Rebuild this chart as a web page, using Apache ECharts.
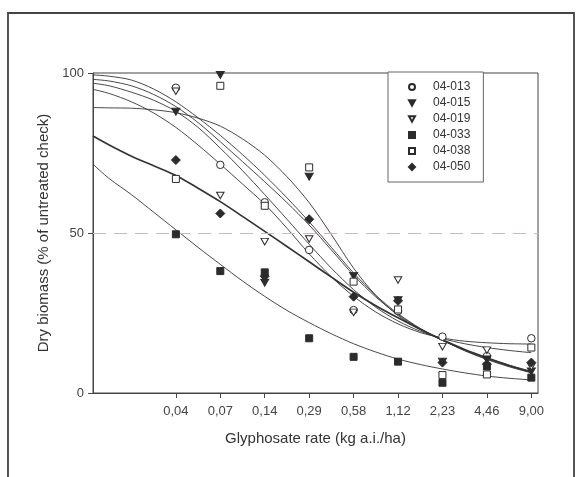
<!DOCTYPE html>
<html>
<head>
<meta charset="utf-8">
<script src="https://cdn.jsdelivr.net/npm/echarts@6/dist/echarts.min.js"></script>
<style>html,body{margin:0;padding:0;background:#fff;}#c{width:579px;height:477px;}</style>
</head>
<body>
<div id="c"></div>
<script>
// Tick labels (glyphosate rate, doubling series, equally spaced)
const rateLabels = ['0,04', '0,07', '0,14', '0,29', '0,58', '1,12', '2,23', '4,46', '9,00'];
const ratePos = [0, 1, 2, 3, 4, 5, 6, 7, 8];

// Observed values (% of untreated check)
const genotypes = ['04-013', '04-015', '04-019', '04-033', '04-038', '04-050'];
const obs013 = [95.4, 71.3, 59.6, 44.7, 25.9, 25.6, 17.6, 11.5, 17.1];
const obs015 = [87.9, 99.4, 34.5, 67.6, 36.6, 29.0, 9.8, 10.5, 6.7];
const obs019 = [94.3, 61.7, 47.3, 48.1, 25.2, 35.3, 14.5, 13.4, 8.2];
const obs033 = [49.6, 38.1, 37.7, 17.1, 11.3, 9.8, 3.2, 8.3, 4.8];
const obs038 = [66.9, 96.0, 58.5, 70.5, 34.8, 26.1, 5.6, 5.8, 14.2];
const obs050 = [72.8, 56.1, 36.5, 54.3, 30.1, 28.8, 9.5, 9.0, 9.5];

// Fitted curves, read along the rate axis positions
const curveX = [-1.865, -1.5, -1, -0.5, 0, 0.5, 1, 1.5, 2, 2.5, 3, 3.5, 4, 4.5, 5, 5.5, 6, 6.5, 7, 7.5, 8];
const fitA = [99.4, 99.0, 97.8, 95.0, 91.0, 86.0, 80.5, 74.5, 68.0, 61.0, 53.5, 45.5, 37.5, 30.5, 24.8, 20.2, 16.5, 13.3, 10.6, 8.4, 6.5];
const fitB = [98.0, 97.5, 96.0, 93.3, 89.5, 84.5, 78.5, 72.3, 66.0, 59.5, 52.5, 44.7, 36.8, 30.0, 24.5, 20.0, 16.5, 13.2, 10.5, 8.2, 6.3];
const fitC = [96.8, 96.0, 94.0, 91.5, 88.0, 83.0, 76.5, 69.5, 62.0, 54.3, 46.5, 39.0, 32.3, 26.8, 22.5, 19.3, 17.0, 15.4, 14.2, 13.3, 12.6];
const fitD = [94.9, 93.6, 91.0, 87.5, 83.0, 77.5, 71.5, 65.3, 59.0, 51.5, 43.5, 36.3, 30.2, 25.3, 21.6, 18.9, 17.2, 16.2, 15.7, 15.4, 15.3];
const fitE = [89.2, 89.1, 89.0, 88.5, 87.6, 85.9, 83.4, 79.4, 74.3, 67.6, 59.5, 49.5, 39.0, 30.5, 24.2, 19.8, 16.5, 13.5, 10.9, 8.7, 6.8];
const fitBold = [80.3, 77.5, 74.0, 71.0, 68.0, 64.0, 59.8, 55.2, 50.5, 45.8, 41.0, 36.2, 31.5, 27.3, 23.5, 19.9, 16.6, 13.6, 11.0, 8.6, 6.5];
const fitG = [71.5, 67.0, 62.0, 56.5, 51.0, 45.5, 40.2, 35.0, 30.2, 25.8, 22.0, 18.5, 15.4, 12.8, 10.6, 8.9, 7.5, 6.3, 5.3, 4.6, 4.1];

const refLine = 50;

const chart = echarts.init(document.getElementById('c'), null, {renderer: 'canvas'});
const font = 'Liberation Sans, Arial, sans-serif';
const ink = '#2b2b2b';
const downTri = 'path://M0,0L10,0L5,9Z';

function pts(xs, ys) { return xs.map((x, i) => [x, ys[i]]); }

const fits = [fitA, fitB, fitC, fitD, fitE, fitBold, fitG];
const lineSeries = fits.map((f, k) => ({
  type: 'line', name: 'fit' + k, data: pts(curveX, f), smooth: 0.3,
  showSymbol: false, silent: true,
  lineStyle: {color: '#333', width: f === fitBold ? 1.7 : 0.9}, z: 2
}));
lineSeries[0].markLine = {
  silent: true, symbol: 'none', label: {show: false},
  lineStyle: {color: '#c4bcb8', type: [13, 8], width: 1.2},
  data: [{yAxis: refLine}]
};

const markerDefs = [
  {name: genotypes[0], data: obs013, symbol: 'circle', size: 7.5, fill: '#fff'},
  {name: genotypes[1], data: obs015, symbol: downTri, size: [8, 7], fill: ink},
  {name: genotypes[2], data: obs019, symbol: downTri, size: [7.5, 6.5], fill: '#fff'},
  {name: genotypes[3], data: obs033, symbol: 'rect', size: 7, fill: ink},
  {name: genotypes[4], data: obs038, symbol: 'rect', size: 7, fill: '#fff'},
  {name: genotypes[5], data: obs050, symbol: 'diamond', size: 9, fill: ink}
];
const scatterSeries = markerDefs.map(m => ({
  type: 'scatter', name: m.name, data: pts(ratePos, m.data), symbol: m.symbol, symbolSize: m.size,
  itemStyle: {color: m.fill, borderColor: ink, borderWidth: 1, opacity: 1}, z: 5
}));

chart.setOption({
  animation: false,
  backgroundColor: '#fff',
  textStyle: {fontFamily: font},
  graphic: [{
    type: 'rect', shape: {x: 8, y: 13, width: 566, height: 480}, silent: true,
    style: {fill: 'none', stroke: '#444', lineWidth: 1.8}
  }],
  grid: {left: 93, right: 41, top: 73, bottom: 84, show: true, borderColor: '#444', borderWidth: 1, backgroundColor: 'transparent'},
  legend: {
    data: genotypes, orient: 'vertical', left: 388, top: 72,
    padding: [8, 13, 8, 20], itemGap: 2, itemWidth: 6, itemHeight: 6,
    borderColor: '#666', borderWidth: 1, backgroundColor: '#fff',
    textStyle: {fontFamily: font, fontSize: 12, color: '#333', lineHeight: 14, padding: [0, 0, 0, 13]},
    selectedMode: false
  },
  xAxis: {
    type: 'value', min: -1.865, max: 8.15,
    name: 'Glyphosate rate (kg a.i./ha)', nameLocation: 'middle', nameGap: 38,
    nameTextStyle: {fontFamily: font, fontSize: 15, color: '#333'},
    axisLine: {show: true, onZero: false, lineStyle: {color: '#444', width: 1}},
    axisTick: {show: true, length: 5, lineStyle: {color: '#444'}, customValues: ratePos},
    axisLabel: {customValues: ratePos, margin: 12, fontSize: 13, color: '#444', fontFamily: font,
      formatter: v => rateLabels[Math.round(v)]},
    splitLine: {show: false}
  },
  yAxis: {
    type: 'value', min: 0, max: 100, interval: 50,
    name: 'Dry biomass (% of untreated check)', nameLocation: 'middle', nameGap: 39,
    nameTextStyle: {fontFamily: font, fontSize: 15, color: '#333'},
    axisLine: {show: true, onZero: false, lineStyle: {color: '#444', width: 1}},
    axisTick: {show: true, length: 5, lineStyle: {color: '#444'}},
    axisLabel: {margin: 9, fontSize: 13, color: '#444', fontFamily: font},
    splitLine: {show: false}
  },
  series: lineSeries.concat(scatterSeries)
});
</script>
</body>
</html>
